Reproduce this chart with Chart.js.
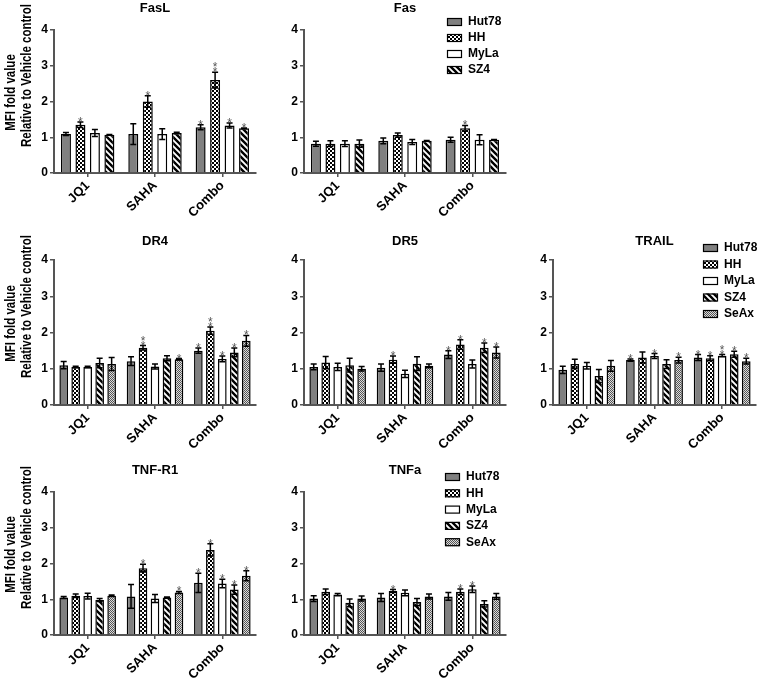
<!DOCTYPE html>
<html><head><meta charset="utf-8">
<script src="https://cdn.jsdelivr.net/npm/chart.js@4.4.0/dist/chart.umd.min.js"></script>
<style>
html,body{margin:0;padding:0;background:#fff;}
#wrap{position:relative;width:759px;height:679px;overflow:hidden;background:#fff;}
canvas{position:absolute;}
</style></head><body><div id="wrap"></div>
<script>
// ---------- data (rows = cell lines, columns = categories) ----------
const categories = ['JQ1', 'SAHA', 'Combo'];
const cellLines = ['Hut78', 'HH', 'MyLa', 'SZ4', 'SeAx'];
const yTickValues = [0, 1, 2, 3, 4];
const yAxisTitle = ['MFI fold value', 'Relative to Vehicle control'];

const fasLMean = [[1.09, 1.09, 1.28], [1.35, 2.00, 2.60], [1.12, 1.09, 1.33], [1.07, 1.12, 1.25]];
const fasLErr  = [[0.04, 0.29, 0.07], [0.08, 0.16, 0.22], [0.10, 0.15, 0.07], [0.01, 0.02, 0.01]];
const fasLSig  = [['', '', '*'], ['*', '*', '**'], ['', '', '*'], ['', '', '*']];

const fasMean = [[0.82, 0.90, 0.93], [0.82, 1.06, 1.25], [0.82, 0.87, 0.93], [0.82, 0.90, 0.93]];
const fasErr  = [[0.07, 0.08, 0.07], [0.08, 0.06, 0.08], [0.08, 0.07, 0.14], [0.10, 0.01, 0.01]];
const fasSig  = [['', '', ''], ['', '', '*'], ['', '', ''], ['', '', '']];

const dr4Mean = [[1.10, 1.21, 1.50], [1.05, 1.58, 2.05], [1.05, 1.06, 1.27], [1.16, 1.29, 1.45], [1.13, 1.26, 1.77]];
const dr4Err  = [[0.10, 0.12, 0.07], [0.02, 0.06, 0.10], [0.02, 0.07, 0.08], [0.13, 0.07, 0.12], [0.18, 0.02, 0.15]];
const dr4Sig  = [['', '', '*'], ['', '**', '**'], ['', '', '*'], ['', '', '*'], ['', '*', '*']];

const dr5Mean = [[1.05, 1.03, 1.39], [1.17, 1.25, 1.67], [1.05, 0.86, 1.13], [1.10, 1.14, 1.58], [1.00, 1.08, 1.45]];
const dr5Err  = [[0.08, 0.10, 0.11], [0.17, 0.10, 0.13], [0.10, 0.10, 0.11], [0.19, 0.19, 0.13], [0.06, 0.05, 0.15]];
const dr5Sig  = [['', '', '*'], ['', '*', '*'], ['', '', ''], ['', '', '*'], ['', '', '*']];

const trailMean = [[0.97, 1.24, 1.31], [1.13, 1.31, 1.29], [1.08, 1.35, 1.36], [0.80, 1.13, 1.40], [1.08, 1.24, 1.21]];
const trailErr  = [[0.10, 0.03, 0.08], [0.13, 0.15, 0.07], [0.09, 0.07, 0.03], [0.18, 0.12, 0.08], [0.15, 0.08, 0.08]];
const trailSig  = [['', '*', '*'], ['', '', '*'], ['', '*', '**'], ['', '', '*'], ['', '*', '*']];

const tnfr1Mean = [[1.05, 1.08, 1.46], [1.10, 1.87, 2.38], [1.09, 1.02, 1.44], [0.98, 1.05, 1.27], [1.10, 1.19, 1.66]];
const tnfr1Err  = [[0.03, 0.33, 0.27], [0.05, 0.11, 0.17], [0.08, 0.11, 0.12], [0.04, 0.01, 0.13], [0.02, 0.03, 0.14]];
const tnfr1Sig  = [['', '', '*'], ['', '*', '*'], ['', '', '*'], ['', '', '*'], ['', '*', '*']];

const tnfaMean = [[1.02, 1.05, 1.08], [1.21, 1.23, 1.21], [1.13, 1.18, 1.28], [0.90, 0.92, 0.87], [1.02, 1.08, 1.08]];
const tnfaErr  = [[0.08, 0.11, 0.11], [0.08, 0.04, 0.08], [0.03, 0.08, 0.09], [0.11, 0.10, 0.09], [0.07, 0.07, 0.08]];
const tnfaSig  = [['', '', ''], ['', '*', '*'], ['', '', '*'], ['', '', ''], ['', '', '']];

// ---------- styling / layout ----------
const FONT = '"Liberation Sans", Arial, Helvetica, sans-serif';
const AXIS = '#555';
Chart.defaults.font.family = FONT;

function makePattern(size, draw) {
  const c = document.createElement('canvas');
  c.width = size; c.height = size;
  const g = c.getContext('2d');
  draw(g, size);
  return document.createElement('canvas').getContext('2d').createPattern(c, 'repeat');
}
const fillHut = '#808080';
const fillHH = makePattern(4, (g) => {
  g.fillStyle = '#000'; g.fillRect(0, 0, 4, 4);
  g.fillStyle = '#fff'; g.fillRect(0, 0, 2, 2); g.fillRect(2, 2, 2, 2);
});
const fillMyLa = '#ffffff';
const fillSZ4 = makePattern(6, (g, s) => {
  g.fillStyle = '#fff'; g.fillRect(0, 0, s, s);
  g.strokeStyle = '#000'; g.lineWidth = 2.4;
  g.beginPath();
  g.moveTo(-2, -2); g.lineTo(s + 2, s + 2);
  g.moveTo(-2, s - 2); g.lineTo(2, s + 2);
  g.moveTo(s - 2, -2); g.lineTo(s + 2, 2);
  g.stroke();
});
const fillSeAx = makePattern(2, (g) => {
  g.fillStyle = '#dcdcdc'; g.fillRect(0, 0, 2, 2);
  g.fillStyle = '#555'; g.fillRect(0, 0, 1, 1); g.fillRect(1, 1, 1, 1);
});
const fills = [fillHut, fillHH, fillMyLa, fillSZ4, fillSeAx];

const panels = [
  {title: 'FasL', mean: fasLMean, err: fasLErr, sig: fasLSig, left: 0, top: 0, w: 258, h: 232, pl: 34, pt: 30, pr: 2, xh: 59, titleY: 8, yTitle: true, legend: null},
  {title: 'Fas', mean: fasMean, err: fasErr, sig: fasSig, left: 258, top: 0, w: 250, h: 232, pl: 26, pt: 30, pr: 2, xh: 59, titleY: 8, yTitle: false, legend: {x: 189, y: 22, dy: 16}},
  {title: 'DR4', mean: dr4Mean, err: dr4Err, sig: dr4Sig, left: 0, top: 232, w: 258, h: 228, pl: 34, pt: 28, pr: 2, xh: 55, titleY: 9, yTitle: true, legend: null},
  {title: 'DR5', mean: dr5Mean, err: dr5Err, sig: dr5Sig, left: 258, top: 232, w: 250, h: 228, pl: 26, pt: 28, pr: 2, xh: 55, titleY: 9, yTitle: false, legend: null},
  {title: 'TRAIL', mean: trailMean, err: trailErr, sig: trailSig, left: 508, top: 232, w: 251, h: 228, pl: 25, pt: 28, pr: 3, xh: 55, titleY: 9, yTitle: false, legend: {x: 195, y: 16, dy: 16.5}},
  {title: 'TNF-R1', mean: tnfr1Mean, err: tnfr1Err, sig: tnfr1Sig, left: 0, top: 460, w: 258, h: 219, pl: 34, pt: 32, pr: 2, xh: 44, titleY: 10, yTitle: true, legend: null},
  {title: 'TNFa', mean: tnfaMean, err: tnfaErr, sig: tnfaSig, left: 258, top: 460, w: 250, h: 219, pl: 26, pt: 32, pr: 2, xh: 44, titleY: 10, yTitle: false, legend: {x: 187, y: 17, dy: 16.3}}
];

function decorPlugin(p) {
  return {
    id: 'decor',
    afterDatasetsDraw(chart) {
      const ctx = chart.ctx, ys = chart.scales.y;
      ctx.save();
      chart.data.datasets.forEach((ds, i) => {
        const meta = chart.getDatasetMeta(i);
        meta.data.forEach((bar, j) => {
          const v = ds.data[j], e = p.err[i][j];
          const yT = ys.getPixelForValue(v + e), yB = ys.getPixelForValue(v - e);
          const cw = 3;
          ctx.strokeStyle = '#000'; ctx.lineWidth = 1.5;
          ctx.beginPath();
          ctx.moveTo(bar.x, yT); ctx.lineTo(bar.x, yB);
          ctx.moveTo(bar.x - cw, yT); ctx.lineTo(bar.x + cw, yT);
          ctx.moveTo(bar.x - cw, yB); ctx.lineTo(bar.x + cw, yB);
          ctx.stroke();
          const s = p.sig[i][j];
          if (s) {
            ctx.fillStyle = '#555';
            ctx.font = '12px ' + FONT;
            ctx.textAlign = 'center'; ctx.textBaseline = 'alphabetic';
            for (let k = 0; k < s.length; k++) ctx.fillText('*', bar.x, yT + 4 - k * 5);
          }
        });
      });
      ctx.restore();
    },
    afterDraw(chart) {
      const ctx = chart.ctx, a = chart.chartArea;
      ctx.save();
      ctx.fillStyle = '#000';
      ctx.font = 'bold 13px ' + FONT;
      ctx.textAlign = 'center'; ctx.textBaseline = 'middle';
      ctx.fillText(p.title, (a.left + a.right) / 2, p.titleY);
      if (p.yTitle) {
        const cy = (a.top + a.bottom) / 2;
        ctx.font = 'bold 14px ' + FONT;
        [[11, cy - 9, yAxisTitle[0]], [27, cy - 26, yAxisTitle[1]]].forEach(([x, y, t]) => {
          ctx.save(); ctx.translate(x, y); ctx.rotate(-Math.PI / 2); ctx.scale(0.82, 1);
          ctx.fillText(t, 0, 0); ctx.restore();
        });
      }
      if (p.legend) {
        const L = p.legend;
        chart.data.datasets.forEach((ds, i) => {
          const cy = L.y + i * L.dy;
          ctx.fillStyle = ds.backgroundColor;
          ctx.fillRect(L.x, cy - 4, 15, 8);
          ctx.strokeStyle = '#000'; ctx.lineWidth = 1.2;
          ctx.strokeRect(L.x + 0.5, cy - 3.5, 14, 7);
          ctx.fillStyle = '#000';
          ctx.font = 'bold 12px ' + FONT;
          ctx.textAlign = 'left'; ctx.textBaseline = 'middle';
          ctx.fillText(ds.label, L.x + 21, cy);
        });
      }
      ctx.restore();
    }
  };
}

const wrap = document.getElementById('wrap');
panels.forEach((p) => {
  const cv = document.createElement('canvas');
  cv.width = p.w; cv.height = p.h;
  cv.style.left = p.left + 'px'; cv.style.top = p.top + 'px';
  cv.style.width = p.w + 'px'; cv.style.height = p.h + 'px';
  wrap.appendChild(cv);
  const n = p.mean.length;
  const catPct = n === 4 ? 0.86 : 0.89;
  const barPct = n === 4 ? 0.69 : 0.72;
  const datasets = p.mean.map((row, i) => ({
    label: cellLines[i],
    data: row,
    backgroundColor: fills[i],
    borderColor: '#000',
    borderWidth: 1.5,
    categoryPercentage: catPct,
    barPercentage: barPct
  }));
  new Chart(cv, {
    type: 'bar',
    data: {labels: categories, datasets},
    options: {
      responsive: false,
      animation: false,
      devicePixelRatio: 1,
      layout: {padding: {left: p.pl, top: p.pt, right: p.pr, bottom: 0}},
      plugins: {legend: {display: false}, tooltip: {enabled: false}, title: {display: false}},
      scales: {
        x: {
          type: 'category',
          offset: true,
          afterFit: (s) => { s.height = p.xh; },
          grid: {offset: false, drawOnChartArea: false, drawTicks: true, tickLength: 4, color: AXIS, lineWidth: 1.5},
          border: {display: true, color: AXIS, width: 2},
          ticks: {autoSkip: false, minRotation: 45, maxRotation: 45, padding: 1, color: '#000', font: {size: 13, weight: 'bold'}}
        },
        y: {
          min: 0, max: 4,
          afterFit: (s) => { s.width = 20; },
          afterBuildTicks: (s) => { s.ticks = yTickValues.map((v) => ({value: v})); },
          grid: {drawOnChartArea: false, drawTicks: true, tickLength: 4, color: AXIS, lineWidth: 1.5},
          border: {display: true, color: AXIS, width: 2},
          ticks: {padding: 2, color: '#000', font: {size: 12, weight: 'bold'}}
        }
      }
    },
    plugins: [decorPlugin(p)]
  });
});
</script>
</body></html>
